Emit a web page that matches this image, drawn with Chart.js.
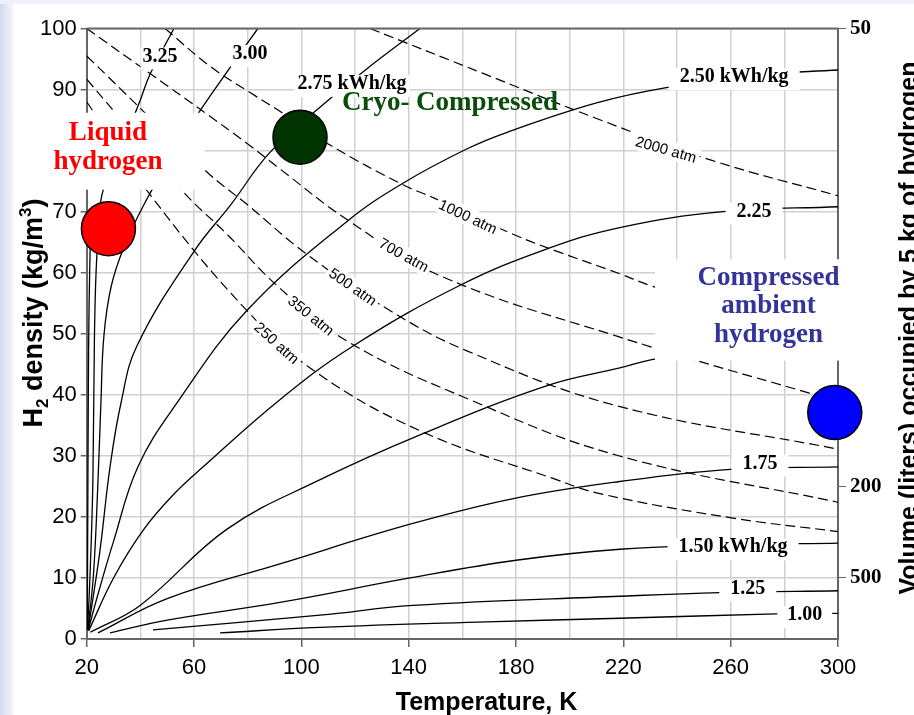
<!DOCTYPE html>
<html>
<head>
  <script src="https://cdn.jsdelivr.net/npm/chart.js"></script>
  <style>
    html, body { margin: 0; padding: 0; background: #ffffff; }
    canvas { display: block; }
  </style>
</head>
<body>
  <canvas id="h2Chart" width="914" height="715"></canvas>

  <script>
    // Isobars (dashed lines), points are [temperature K, density kg/m3]
    var atm2000 = [[125.6, 100], [168, 92.6], [211, 85.1], [253, 78.4], [300, 72.6]];
    var atm1000 = [[49.2, 100], [66, 93.8], [80.9, 89.5], [93.2, 86.1], [110.7, 80.9], [137.9, 74.4], [149.1, 72.3], [178.9, 66.3], [195.3, 63.5], [218.8, 59.8], [230, 57.9], [265, 53], [300, 48.5]];
    var atm700 = [[20, 100], [44, 92.5], [62.2, 86.8], [80.9, 80.8], [92, 77], [117, 68.7], [151.7, 59.5], [217.6, 49.6], [288.4, 40.4], [300, 39.1]];
    var atm500 = [[20, 95.5], [64.8, 76.5], [79.7, 71.2], [102.1, 63], [133, 53.8], [161.7, 47.2], [217.6, 38.2], [300, 31.1]];
    var atm350 = [[20, 91.7], [55.9, 73.3], [72.3, 66.3], [90.9, 57.9], [117, 48.8], [162.8, 39.2], [217.6, 30.1], [300, 22.4]];
    var atm250 = [[20, 88], [43.6, 72.8], [79.7, 53.8], [105.8, 43.6], [145.3, 33.9], [193.8, 26.3], [211.3, 23.8], [260.9, 19.8], [300, 17.6]];

    // Energy contours (solid lines), kWh/kg
    var kwhTop = [[20.2, 1.5], [20.4, 20], [20.6, 40], [20.9, 55], [21.4, 66]];
    var kwh325 = [[20.3, 1.5], [21.2, 10], [22.3, 25.8], [22.9, 50], [23.8, 63], [25.7, 72.8], [32.4, 79.9], [39.9, 88.2], [43.6, 92.5], [52.5, 100]];
    var kwh300 = [[20.4, 1.5], [22.5, 10.4], [24.2, 25.8], [25.3, 38.7], [26.4, 49.6], [29.1, 57.7], [33.9, 64.2], [41.4, 71.2], [51.8, 79.3], [62.2, 86.5], [72.3, 92.9], [83.8, 100]];
    var kwh275 = [[20.5, 1.5], [23.5, 10], [25.3, 15.7], [28.7, 28.2], [32.8, 38.7], [38.7, 48], [60, 63.5], [73.8, 71.2], [88.3, 79.7], [108.8, 87.8], [125.6, 93.8], [144.2, 100]];
    var kwh250 = [[20.6, 1.5], [24, 7], [29.8, 15.7], [39.1, 28.2], [53.7, 38.7], [79.7, 53.8], [117, 68.4], [138, 74.7], [161.8, 80.3], [176.7, 83], [210, 87.8], [236, 90.3], [270, 92.4], [300, 93.2]];
    var kwh225 = [[20.7, 1.3], [30, 10], [41, 17.8], [52, 23.5], [63.4, 28.2], [92, 39.2], [119.3, 48], [159, 57.9], [191.6, 63.9], [218.7, 67.4], [257, 70], [300, 70.8]];
    var kwh200 = [[21.3, 1.1], [39.9, 5.5], [72.3, 18], [107, 26.1], [144, 33.4], [191.6, 41.5], [218.7, 44.4], [232.5, 45.9], [265, 47.2], [300, 48]];
    var kwh175 = [[24.2, 1], [50, 6.6], [92, 12.3], [140.5, 18.8], [179, 23], [218.7, 25.8], [260, 27.8], [300, 28.2]];
    var kwh150 = [[28.7, 1], [50, 3.1], [92, 6], [140.5, 10], [180, 12.9], [218.7, 14.7], [260, 15.4], [300, 15.7]];
    var kwh125 = [[44.7, 1.5], [107, 3.9], [141.6, 5.5], [218.7, 7], [256, 7.6], [300, 7.9]];
    var kwh100 = [[69.7, 1], [107, 1.9], [169, 2.8], [218.7, 3.4], [277, 4.1], [300, 4.2]];

    // The three storage options, marked with dots
    var dotPoints = [[28.1, 67.2], [99.5, 82.2], [298.8, 37.1]];
    var dotColors = ['#ff0000', '#003300', '#0000ff'];

    // Right axis: volume (liters) taken by 5 kg of hydrogen
    var volumeTicks = [50, 200, 500];
    var hydrogenKg = 5;

    var atmNames = ['2000 atm', '1000 atm', '700 atm', '500 atm', '350 atm', '250 atm'];
    var kwhNames = ['3.25', '3.00', '2.75 kWh/kg', '2.50 kWh/kg', '2.25', '1.75', '1.50 kWh/kg', '1.25', '1.00'];

    // where the labels sit, in chart units: [T, density, angle or side padding]
    var atmSpots = [[235.9, 80.2, 16], [162.1, 69.2, 25], [138.2, 62.9, 29], [119.2, 57.7, 35], [103.6, 53, 39], [90.9, 48.5, 42]];
    var kwhSpots = [[47.3, 95.1, 2], [80.9, 95.5, 2], [118.9, 90.6, 3], [261.3, 91.7, 11], [268.7, 69.7, 11], [270.9, 28.4, 11], [260.9, 14.7, 11], [266.4, 7.9, 11], [287.6, 3.6, 10]];

    var regions = [
      { lines: ['Liquid', 'hydrogen'], color: '#ff0000', box: [-7.5, 64.1, 73.6, 86.2], at: [27.9, 82.5] },
      { lines: ['Cryo- Compressed'], color: '#0a4d0a', box: null, at: [155.4, 87.5] },
      { lines: ['Compressed', 'ambient', 'hydrogen'], color: '#333399', box: [231.8, 312.6, 45.6, 62.2], at: [274.1, 58.8] }
    ];

    var SANS = "'Liberation Sans', Arial, sans-serif";
    var SERIF = "'Liberation Serif', 'Times New Roman', serif";

    function toXY(pts) {
      return pts.map(function (p) { return { x: p[0], y: p[1] }; });
    }

    function curve(pts, dashed) {
      return {
        data: toXY(pts),
        showLine: true,
        borderColor: '#000000',
        borderWidth: dashed ? 1.2 : 1.3,
        borderDash: dashed ? [10, 5] : [],
        pointRadius: 0,
        tension: 0.4,
        order: 1
      };
    }

    var datasets = [];
    [atm2000, atm1000, atm700, atm500, atm350, atm250].forEach(function (c) { datasets.push(curve(c, true)); });
    [kwhTop, kwh325, kwh300, kwh275, kwh250, kwh225, kwh200, kwh175, kwh150, kwh125, kwh100].forEach(function (c) { datasets.push(curve(c, false)); });
    datasets.push({
      data: toXY(dotPoints),
      pointRadius: 27,
      pointBackgroundColor: dotColors,
      pointBorderColor: '#000000',
      pointBorderWidth: 1.5,
      showLine: false,
      clip: false,
      order: 0
    });

    function drawParts(ctx, parts, x, y) {
      // parts: [text, size, baseline shift]
      var total = 0;
      parts.forEach(function (p) {
        ctx.font = 'bold ' + p[1] + 'px ' + SANS;
        total += ctx.measureText(p[0]).width;
      });
      var pos = x - total / 2;
      parts.forEach(function (p) {
        ctx.font = 'bold ' + p[1] + 'px ' + SANS;
        ctx.fillText(p[0], pos, y + p[2]);
        pos += ctx.measureText(p[0]).width;
      });
    }

    var decorations = {
      id: 'decorations',
      beforeDraw: function (chart) {
        var ctx = chart.ctx;
        ctx.save();
        ctx.fillStyle = '#ffffff';
        ctx.fillRect(0, 0, chart.width, chart.height);
        var g = ctx.createLinearGradient(0, 0, 13, 0);
        g.addColorStop(0, '#d2dbef');
        g.addColorStop(1, '#f2f5fb');
        ctx.fillStyle = g;
        ctx.fillRect(0, 0, 13, chart.height);
        ctx.fillStyle = '#eef1f7';
        ctx.fillRect(0, 0, chart.width, 4);
        ctx.restore();
      },
      afterDatasetsDraw: function (chart) {
        var ctx = chart.ctx, xs = chart.scales.x, ys = chart.scales.y, area = chart.chartArea;
        ctx.save();

        // top frame line
        ctx.strokeStyle = '#666666';
        ctx.lineWidth = 2;
        ctx.beginPath();
        ctx.moveTo(area.left, area.top);
        ctx.lineTo(area.right, area.top);
        ctx.stroke();

        // isobar labels, rotated along the line
        ctx.textAlign = 'center';
        ctx.textBaseline = 'middle';
        atmNames.forEach(function (t, i) {
          var s = atmSpots[i];
          ctx.save();
          ctx.translate(xs.getPixelForValue(s[0]), ys.getPixelForValue(s[1]));
          ctx.rotate(s[2] * Math.PI / 180);
          ctx.font = '15px ' + SANS;
          var w = ctx.measureText(t).width;
          ctx.fillStyle = '#ffffff';
          ctx.fillRect(-w / 2 - 3, -9, w + 6, 18);
          ctx.fillStyle = '#000000';
          ctx.fillText(t, 0, 1);
          ctx.restore();
        });

        // energy labels
        ctx.font = 'bold 20px ' + SERIF;
        kwhNames.forEach(function (t, i) {
          var s = kwhSpots[i];
          var x = xs.getPixelForValue(s[0]), y = ys.getPixelForValue(s[1]);
          var w = ctx.measureText(t).width;
          ctx.fillStyle = '#ffffff';
          ctx.fillRect(x - w / 2 - s[2], y - 11, w + 2 * s[2], 22);
          ctx.fillStyle = '#000000';
          ctx.fillText(t, x, y - 2);
        });

        // storage region captions
        regions.forEach(function (r) {
          if (r.box) {
            var x0 = xs.getPixelForValue(r.box[0]), x1 = xs.getPixelForValue(r.box[1]);
            var y0 = ys.getPixelForValue(r.box[3]), y1 = ys.getPixelForValue(r.box[2]);
            ctx.fillStyle = '#ffffff';
            ctx.fillRect(x0, y0, x1 - x0, y1 - y0);
          }
          ctx.font = 'bold 27px ' + SERIF;
          ctx.fillStyle = r.color;
          var cx = xs.getPixelForValue(r.at[0]), cy = ys.getPixelForValue(r.at[1]);
          r.lines.forEach(function (line, k) {
            ctx.fillText(line, cx, cy - 2 + k * 28.5);
          });
        });
        ctx.restore();
      },
      afterDraw: function (chart) {
        var ctx = chart.ctx;
        ctx.save();
        ctx.fillStyle = '#000000';
        ctx.textBaseline = 'alphabetic';

        // x title
        ctx.font = 'bold 25px ' + SANS;
        ctx.textAlign = 'center';
        ctx.fillText('Temperature, K', 486.5, 710);

        // left title with sub and superscript
        ctx.save();
        ctx.translate(42, 313);
        ctx.rotate(-Math.PI / 2);
        ctx.textAlign = 'left';
        drawParts(ctx, [['H', 27, 0], ['2', 17, 6], [' density (kg/m', 27, 0], ['3', 17, -11], [')', 27, 0]], 0, 0);
        ctx.restore();

        // right title
        ctx.save();
        ctx.translate(917, 328);
        ctx.rotate(-Math.PI / 2);
        ctx.textAlign = 'center';
        ctx.font = 'bold 25px ' + SANS;
        ctx.fillText('Volume (liters) occupied by 5 kg of hydrogen', 0, 0);
        ctx.restore();

        ctx.restore();
      }
    };

    var config = {
      type: 'scatter',
      data: { datasets: datasets },
      options: {
        responsive: false,
        animation: false,
        devicePixelRatio: 1,
        events: [],
        layout: { padding: { top: 22, left: 0, right: 0, bottom: 0 } },
        plugins: {
          legend: { display: false },
          tooltip: { enabled: false }
        },
        scales: {
          x: {
            type: 'linear',
            min: 20,
            max: 300,
            ticks: {
              stepSize: 20,
              autoSkip: false,
              maxRotation: 0,
              padding: 8,
              color: '#000000',
              font: { family: SANS, size: 22 },
              callback: function (v) { return (v - 20) % 40 === 0 ? String(v) : ''; }
            },
            grid: {
              color: '#d0d0d0',
              lineWidth: 1.5,
              tickLength: 8,
              tickColor: function (c) {
                return c.tick && (c.tick.value - 20) % 40 === 0 ? '#666666' : 'rgba(0,0,0,0)';
              }
            },
            border: { color: '#666666', width: 2 },
            afterFit: function (s) { s.height = 76; }
          },
          y: {
            min: 0,
            max: 100,
            ticks: {
              stepSize: 10,
              padding: 4,
              color: '#000000',
              font: { family: SANS, size: 22 }
            },
            grid: { color: '#d0d0d0', lineWidth: 1.5, tickLength: 6, tickColor: '#666666' },
            border: { color: '#666666', width: 2 },
            afterFit: function (s) { s.width = 86.7; }
          },
          y2: {
            position: 'right',
            min: 0,
            max: 100,
            afterBuildTicks: function (s) {
              s.ticks = volumeTicks.map(function (v) { return { value: hydrogenKg * 1000 / v }; });
            },
            ticks: {
              padding: 4,
              color: '#000000',
              font: { family: SERIF, size: 21, weight: 'bold' },
              callback: function (v) { return String(Math.round(hydrogenKg * 1000 / v)); }
            },
            grid: { drawOnChartArea: false, tickLength: 8, tickColor: '#666666' },
            border: { color: '#666666', width: 2 },
            afterFit: function (s) { s.width = 76; }
          }
        }
      },
      plugins: [decorations]
    };

    var ctx = document.getElementById('h2Chart').getContext('2d');
    new Chart(ctx, config);
  </script>
</body>
</html>
